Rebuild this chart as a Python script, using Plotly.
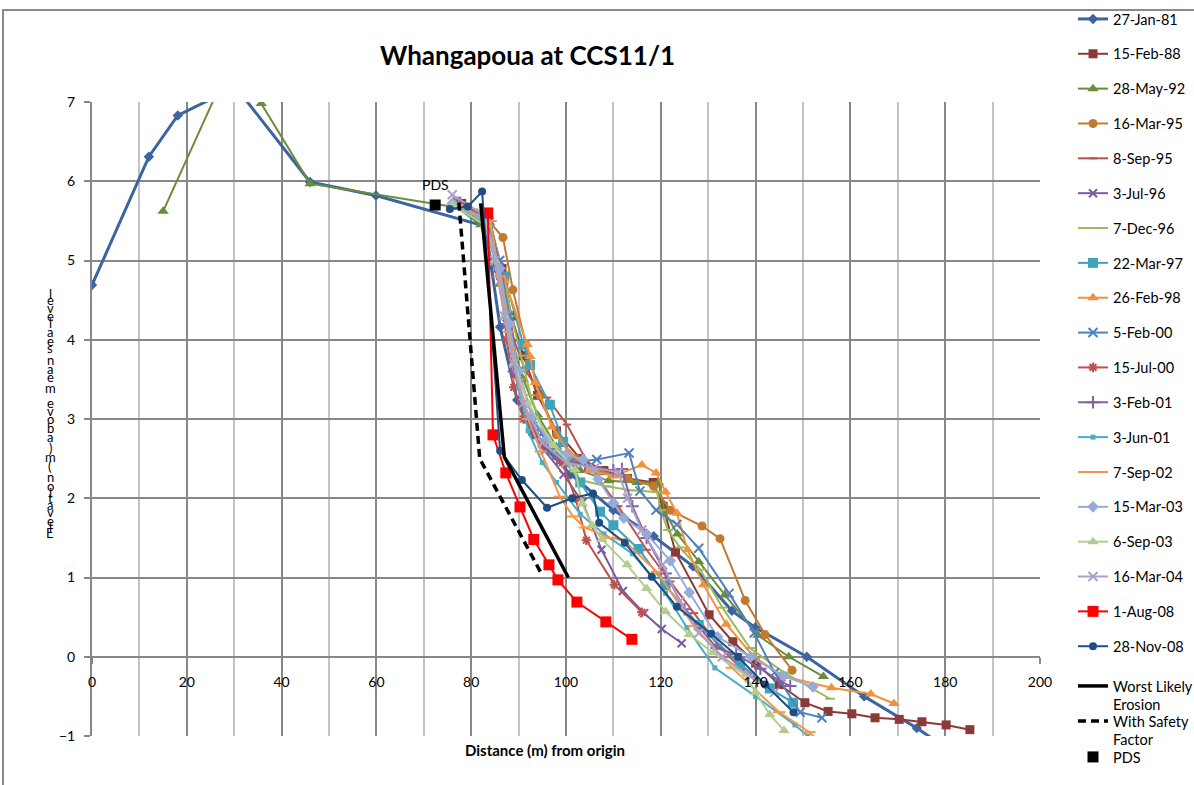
import plotly.graph_objects as go

# ---- survey profiles: distance from origin (m) and level (m) ----
dates = ["27-Jan-81", "15-Feb-88", "28-May-92", "16-Mar-95", "8-Sep-95", "3-Jul-96",
         "7-Dec-96", "22-Mar-97", "26-Feb-98", "5-Feb-00", "15-Jul-00", "3-Feb-01",
         "3-Jun-01", "7-Sep-02", "15-Mar-03", "6-Sep-03", "16-Mar-04", "1-Aug-08",
         "28-Nov-08"]

dist_81 = [0, 12.0, 18.1, 30.3, 46.0, 59.9, 83.0, 86.1, 89.7, 93.0, 101.0, 110.0, 118.5, 126.8, 135.0, 139.9, 150.8, 162.9, 174.0, 178.5]
lev_81 = [4.69, 6.31, 6.83, 7.19, 5.99, 5.82, 5.43, 4.16, 3.24, 2.8, 2.3, 1.85, 1.52, 1.14, 0.58, 0.37, 0.0, -0.5, -0.9, -1.08]

dist_88 = [78.0, 83.5, 86.5, 88.5, 91.0, 94.0, 98.0, 103.0, 108.0, 113.0, 118.4, 120.5, 123.1, 130.2, 135.2, 140.0, 145.0, 150.4, 155.3, 160.3, 165.2, 170.3, 175.1, 180.2, 185.2]
lev_88 = [5.72, 5.55, 4.9, 4.3, 3.8, 3.3, 2.85, 2.5, 2.35, 2.25, 2.2, 1.9, 1.32, 0.53, 0.19, -0.08, -0.35, -0.58, -0.69, -0.72, -0.77, -0.79, -0.82, -0.86, -0.92]

dist_92 = [15.0, 30.0, 35.7, 46.0, 77.0, 82.0, 86.0, 88.5, 91.0, 94.0, 98.0, 103.0, 109.0, 115.0, 119.5, 120.8, 123.5, 128.0, 133.5, 140.5, 147.0, 154.3]
lev_92 = [5.62, 7.6, 6.98, 5.97, 5.67, 5.45, 4.7, 4.0, 3.5, 3.05, 2.65, 2.35, 2.22, 2.2, 2.2, 1.83, 1.55, 1.2, 0.78, 0.27, 0.0, -0.25]

dist_95a = [77.0, 83.0, 86.7, 88.8, 91.5, 94.5, 98.0, 102.0, 107.0, 113.0, 118.5, 122.0, 128.7, 132.5, 137.8, 142.0, 147.7]
lev_95a = [5.75, 5.55, 5.29, 4.63, 3.95, 3.3, 2.8, 2.5, 2.35, 2.25, 2.15, 1.85, 1.65, 1.49, 0.71, 0.28, -0.17]

dist_95b = [77.5, 84.0, 87.0, 89.0, 91.5, 94.0, 96.0, 100.2, 105.0, 111.0, 117.0, 122.0, 127.0, 132.0, 137.0, 143.0]
lev_95b = [5.7, 5.5, 4.7, 4.0, 3.6, 3.4, 3.27, 2.93, 2.4, 1.9, 1.35, 0.95, 0.55, 0.15, -0.15, -0.4]

dist_96a = [77.0, 83.5, 85.5, 87.5, 89.5, 92.0, 95.5, 99.5, 103.5, 107.5, 112.0, 116.5, 120.2, 124.4]
lev_96a = [5.75, 5.5, 4.9, 4.2, 3.55, 3.0, 2.6, 2.3, 1.95, 1.35, 0.83, 0.55, 0.35, 0.17]

dist_96b = [77.0, 84.0, 86.5, 88.5, 90.5, 92.5, 95.5, 99.0, 103.0, 108.6, 113.5, 119.2, 120.0, 121.5, 124.0, 128.3, 133.0, 138.8, 146.0, 155.7]
lev_96b = [5.68, 5.45, 4.9, 4.3, 3.8, 3.3, 2.8, 2.5, 2.23, 2.15, 2.1, 2.08, 1.85, 1.6, 1.38, 1.1, 0.62, 0.11, -0.2, -0.53]

dist_97 = [76.6, 83.5, 87.0, 91.0, 92.4, 96.6, 99.4, 103.0, 107.2, 110.0, 115.3, 121.0, 128.0, 136.7, 143.0, 147.9]
lev_97 = [5.7, 5.45, 4.8, 3.94, 3.68, 3.18, 2.71, 2.2, 1.83, 1.66, 1.36, 0.9, 0.4, -0.09, -0.4, -0.58]

dist_98 = [77.0, 83.0, 87.0, 91.8, 92.4, 93.5, 97.0, 101.0, 105.0, 110.0, 116.0, 119.0, 121.0, 123.4, 125.6, 129.0, 133.8, 139.6, 146.0, 156.0, 164.3, 169.2]
lev_98 = [5.72, 5.5, 4.75, 3.94, 3.79, 3.46, 2.9, 2.55, 2.35, 2.28, 2.42, 2.32, 2.08, 1.81, 1.35, 0.91, 0.41, 0.0, -0.25, -0.39, -0.47, -0.59]

dist_00a = [77.0, 83.0, 86.0, 88.0, 90.0, 93.0, 97.0, 101.0, 106.5, 113.3, 115.6, 119.0, 123.4, 128.0, 134.4, 139.7, 144.0, 149.4, 154.0]
lev_00a = [5.7, 5.55, 5.0, 4.3, 3.6, 3.0, 2.6, 2.45, 2.49, 2.57, 2.09, 1.85, 1.67, 1.37, 0.8, 0.3, -0.2, -0.7, -0.77]

dist_00b = [77.0, 84.0, 86.0, 87.5, 89.0, 91.0, 95.0, 99.2, 102.0, 104.3, 110.2, 116.0]
lev_00b = [5.7, 5.5, 4.8, 4.0, 3.4, 3.0, 2.7, 2.45, 2.0, 1.47, 0.91, 0.56]

dist_01a = [77.0, 84.0, 86.0, 87.5, 89.0, 91.0, 94.0, 98.1, 104.0, 110.0, 111.8, 114.0, 117.0, 121.0, 125.0, 131.8, 135.9, 141.0, 145.0, 147.3]
lev_01a = [5.72, 5.5, 4.9, 4.2, 3.6, 3.2, 2.8, 2.5, 2.42, 2.35, 2.37, 1.9, 1.5, 1.05, 0.6, 0.11, 0.03, -0.15, -0.3, -0.37]

dist_01b = [77.0, 84.0, 86.0, 88.0, 90.0, 92.0, 95.0, 98.0, 103.0, 108.0, 114.0, 121.0, 125.5, 131.4, 140.0, 148.3, 151.0]
lev_01b = [5.7, 5.45, 4.7, 4.0, 3.4, 2.85, 2.45, 2.2, 1.8, 1.55, 1.3, 0.8, 0.37, -0.14, -0.5, -0.86, -1.0]

dist_02 = [77.0, 84.0, 86.0, 88.0, 90.0, 92.0, 94.7, 98.7, 101.5, 104.0, 109.3, 112.0, 119.2, 127.0, 135.0, 145.0, 151.3, 153.0]
lev_02 = [5.7, 5.5, 4.8, 4.1, 3.5, 3.0, 2.59, 2.02, 1.77, 1.63, 1.5, 1.48, 1.07, 0.39, -0.14, -0.7, -0.95, -1.05]

dist_03a = [76.0, 83.0, 86.0, 88.0, 90.0, 92.8, 96.0, 100.0, 103.6, 106.8, 110.0, 112.2, 117.0, 122.0, 126.0, 132.0, 139.0, 145.9, 152.1]
lev_03a = [5.72, 5.5, 4.9, 4.2, 3.6, 3.03, 2.75, 2.55, 2.49, 2.24, 1.94, 1.75, 1.55, 1.21, 0.81, 0.25, 0.0, -0.24, -0.38]

dist_03b = [76.0, 83.0, 85.0, 87.0, 89.0, 92.0, 97.3, 101.9, 103.4, 105.5, 107.6, 112.9, 117.0, 121.0, 126.0, 131.0, 137.8, 140.0, 143.0, 146.0]
lev_03b = [5.7, 5.45, 5.0, 4.3, 3.7, 3.2, 2.67, 2.36, 1.93, 1.66, 1.48, 1.16, 0.86, 0.57, 0.28, 0.05, -0.23, -0.45, -0.73, -0.93]

dist_04 = [76.0, 82.0, 85.0, 87.0, 89.0, 91.0, 95.0, 100.0, 106.0, 111.0, 113.0, 116.0, 120.4, 124.0, 128.0, 133.0, 139.0, 144.0]
lev_04 = [5.83, 5.6, 5.0, 4.3, 3.7, 3.2, 2.7, 2.45, 2.38, 2.33, 2.0, 1.6, 1.16, 0.7, 0.3, 0.0, -0.25, -0.45]

dist_08a = [83.5, 84.6, 87.3, 90.3, 93.2, 96.4, 98.3, 102.3, 108.4, 113.9]
lev_08a = [5.6, 2.8, 2.32, 1.89, 1.48, 1.16, 0.97, 0.69, 0.44, 0.22]

dist_08b = [75.5, 79.3, 82.3, 86.1, 90.7, 96.0, 101.3, 105.7, 107.0, 112.4, 118.1, 123.4, 130.6, 136.3, 142.0, 148.0]
lev_08b = [5.65, 5.68, 5.87, 2.6, 2.23, 1.88, 2.0, 2.06, 1.69, 1.44, 1.01, 0.63, 0.29, 0.0, -0.35, -0.7]

# design erosion lines and the property line point
worst_dist = [82.0, 87.0, 100.5]
worst_lev = [5.72, 2.52, 1.0]
safety_dist = [77.4, 81.8, 94.8]
safety_lev = [5.73, 2.5, 1.05]
pds_dist = [72.4]
pds_lev = [5.7]

xticks = [0, 20, 40, 60, 80, 100, 120, 140, 160, 180, 200]
yticks = [-1, 0, 1, 2, 3, 4, 5, 6, 7]

profiles = [
    (dist_81, lev_81), (dist_88, lev_88), (dist_92, lev_92), (dist_95a, lev_95a),
    (dist_95b, lev_95b), (dist_96a, lev_96a), (dist_96b, lev_96b), (dist_97, lev_97),
    (dist_98, lev_98), (dist_00a, lev_00a), (dist_00b, lev_00b), (dist_01a, lev_01a),
    (dist_01b, lev_01b), (dist_02, lev_02), (dist_03a, lev_03a), (dist_03b, lev_03b),
    (dist_04, lev_04), (dist_08a, lev_08a), (dist_08b, lev_08b),
]

# line colour, marker symbol, marker size, line width per survey
styles = [
    ("#3B64A0", "diamond", 8, 3.0),
    ("#8C3A37", "square", 9, 2.0),
    ("#6A8D3A", "triangle-up", 10, 2.0),
    ("#C27A30", "circle", 9, 2.0),
    ("#C0504D", "line-ew", 6, 2.0),
    ("#7A5C9E", "x-thin", 8, 2.0),
    ("#9BBB59", "line-ew", 7, 2.0),
    ("#3FA3BC", "square", 10, 2.0),
    ("#F0913F", "triangle-up", 10, 2.0),
    ("#4F81BD", "x-thin", 9, 2.0),
    ("#C0504D", "asterisk", 8, 2.0),
    ("#8064A2", "cross-thin", 9, 2.0),
    ("#4BACC6", "square", 5, 2.0),
    ("#F79646", "line-ew", 9, 2.0),
    ("#95ABD8", "diamond", 9, 2.0),
    ("#B3CD8E", "triangle-up", 10, 2.0),
    ("#AC9FCB", "x-thin", 9, 2.0),
    ("#FF0000", "square", 11, 2.0),
    ("#1F4E86", "circle", 8, 2.0),
]

FONT = "Lato, 'Open Sans', sans-serif"
LEG_FONT = dict(family=FONT, size=14.5, color="black")
fig = go.Figure()

for i, (name, (xs, ys), (col, sym, size, lw)) in enumerate(zip(dates, profiles, styles)):
    thin = sym in ("line-ew", "x-thin", "asterisk", "cross-thin")
    fig.add_trace(go.Scatter(
        x=xs, y=ys, name=name, mode="lines+markers",
        line=dict(color=col, width=lw),
        marker=dict(symbol=sym, size=size, color=col,
                    line=dict(color=col, width=2 if thin else 0)),
        legendgroup=f"g{i}", legend="legend",
    ))

fig.add_trace(go.Scatter(
    x=worst_dist, y=worst_lev, name="Worst Likely<br>Erosion", mode="lines",
    line=dict(color="black", width=3.5), legend="legend2"))
fig.add_trace(go.Scatter(
    x=safety_dist, y=safety_lev, name="With Safety<br>Factor", mode="lines",
    line=dict(color="black", width=3.5, dash="8px,5px"), legend="legend4"))
fig.add_trace(go.Scatter(
    x=pds_dist, y=pds_lev, name="PDS", mode="markers",
    marker=dict(symbol="square", size=11, color="black"), legend="legend3"))

W, H = 1194, 785
ML, MR, MT, MB = 92, 154, 102, 49
PW, PH = W - ML - MR, H - MT - MB


def px_x(p):
    return (p - ML) / PW


def px_y(p):
    return (H - MB - p) / PH


annotations = [
    dict(text="<b>Whangapoua at CCS11/1</b>", x=px_x(527), y=px_y(55), xref="paper",
         yref="paper", showarrow=False, font=dict(family=FONT, size=26, color="black"),
         xanchor="center", yanchor="middle"),
    dict(text="<b>Distance (m) from origin</b>", x=px_x(545), y=px_y(750), xref="paper",
         yref="paper", showarrow=False, font=dict(family=FONT, size=15, color="black"),
         xanchor="center", yanchor="middle"),
    dict(text="PDS", x=pds_dist[0], y=pds_lev[0], xref="x", yref="y", showarrow=False,
         yshift=21, font=dict(family=FONT, size=14, color="black"),
         xanchor="center", yanchor="middle"),
]

# vertical axis title: upright glyphs stacked bottom-to-top
ytitle = "Elevation (m) above mean sea level"
glyph_w = {"E": .49, "l": .23, "e": .50, "v": .45, "a": .48, "t": .34, "i": .23,
           "o": .53, "n": .53, " ": .23, "(": .30, ")": .30, "m": .80, "b": .53,
           "s": .39}
total = sum(glyph_w.get(c, .5) for c in ytitle)
top_px, bot_px = 292, 537
scale = (bot_px - top_px) / total
pos = bot_px
for c in ytitle:
    w = glyph_w.get(c, .5) * scale
    centre = pos - w / 2
    pos -= w
    if c == " ":
        continue
    annotations.append(dict(text=c, x=px_x(50), y=px_y(centre), xref="paper", yref="paper",
                            showarrow=False, font=dict(family=FONT, size=13, color="black"),
                            xanchor="center", yanchor="middle"))


def side_legend(top_px, gap=0):
    return dict(x=px_x(1073), y=px_y(top_px), xanchor="left", yanchor="top",
                tracegroupgap=gap, valign="top", font=LEG_FONT, maxheight=900,
                bgcolor="rgba(0,0,0,0)")


fig.update_layout(
    width=W, height=H,
    margin=dict(l=ML, r=MR, t=MT, b=MB, autoexpand=False),
    paper_bgcolor="white", plot_bgcolor="white",
    font=dict(family=FONT, size=13, color="black"),
    showlegend=True,
    legend=side_legend(3, gap=13),
    legend2=side_legend(670),
    legend4=side_legend(705),
    legend3=side_legend(741),
    xaxis=dict(range=[0, 200], tickvals=xticks, ticktext=[str(v) for v in xticks],
               showgrid=True, gridcolor="#878787", gridwidth=2,
               minor=dict(dtick=10, showgrid=True, gridcolor="#C3C3C3", gridwidth=2),
               zeroline=False, showline=False, anchor="free", position=0.125,
               ticks="outside", ticklen=6, tickcolor="#878787", tickwidth=2,
               ticklabelstandoff=6,
               tickfont=dict(family=FONT, size=14, color="black")),
    yaxis=dict(range=[-1, 7], tickvals=yticks, showgrid=True, gridcolor="#878787",
               gridwidth=2, zeroline=False, showline=True, linecolor="#878787", linewidth=2,
               ticks="outside", ticklen=6, tickcolor="#878787", tickwidth=2,
               ticklabelstandoff=6,
               tickfont=dict(family=FONT, size=14, color="black")),
    annotations=annotations,
    shapes=[dict(type="rect", xref="paper", yref="paper",
                 x0=px_x(3), x1=px_x(1210), y0=px_y(800), y1=px_y(10),
                 line=dict(color="#8A8A8A", width=2), fillcolor="rgba(0,0,0,0)",
                 layer="below")],
)

fig.write_html("out.html")
